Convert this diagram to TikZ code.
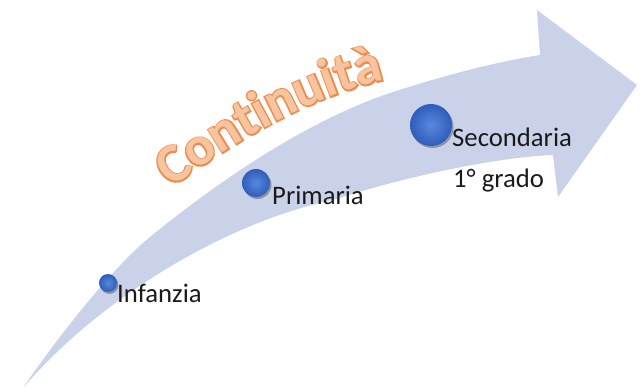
\documentclass[tikz,border=0pt]{standalone}
\usepackage{fontspec}
\setmainfont{Carlito}
\newfontface\embface{Carlito Bold}[FakeBold=5]
\newfontface\boldface{Carlito Bold}
\usetikzlibrary{shadows}
\definecolor{arrowcol}{HTML}{CAD2EA}
\definecolor{dotin}{HTML}{5888DF}
\definecolor{dotout}{HTML}{2F5EBA}
\definecolor{orfill}{HTML}{F7C4A0}
\definecolor{oredge}{HTML}{EE8C4E}
\definecolor{labcol}{HTML}{1A1A1A}
\newcommand{\olet}[1]{\makebox[0pt]{\embface\color{oredge}#1}\makebox[0pt]{\boldface\color{orfill}#1}}
\begin{document}
\begin{tikzpicture}[x=1pt,y=-1pt,
  dot/.style={circle, inner sep=0pt, shading=radial, inner color=dotin, outer color=dotout,
    drop shadow={shadow xshift=1.5pt, shadow yshift=-2pt, opacity=.3, fill=black}},
  lab/.style={anchor=base west, inner sep=0pt, text=labcol, font=\fontsize{26.7}{30}\selectfont},
  lt/.style={sloped, anchor=base, inner sep=0pt, font=\fontsize{55}{55}\selectfont}]
\useasboundingbox (0,0) rectangle (641,390);
\fill[white] (0,0) rectangle (641,390);
% curved arrow
\fill[arrowcol] (23,388) .. controls (57,338) and (112,268) .. (150,237)
  .. controls (220,180) and (308,120) .. (393,92)
  .. controls (440,77) and (490,63) .. (540,55)
  -- (537,10) -- (637,85) -- (558,197) -- (553,155)
  .. controls (500,157) and (410,175) .. (333,200)
  .. controls (235,220) and (105,292) .. (23,388) -- cycle;
% title along a curve
\path (171,188) .. controls (236,141) and (307,98) .. (385,80)
  node[lt, pos=.0607] (t1) {\olet{C}}
  node[lt, pos=.1831] (t2) {\olet{o}}
  node[lt, pos=.3064] (t3) {\olet{n}}
  node[lt, pos=.4079] (t4) {\olet{t}}
  node[lt, pos=.4759] (t5) {\olet{i}}
  node[lt, pos=.5657] (t6) {\olet{n}}
  node[lt, pos=.6890] (t7) {\olet{u}}
  node[lt, pos=.7788] (t8) {\olet{i}}
  node[lt, pos=.8468] (t9) {\olet{t}}
  node[lt, pos=.9433] (t10) {\olet{à}};
% stages
\node[dot, minimum size=18pt] (d1) at (108,283) {};
\node[dot, minimum size=28pt] (d2) at (256,183) {};
\node[dot, minimum size=42pt] (d3) at (431,125) {};
\node[lab] (l1) at (117,303) {Infanzia};
\node[lab] (l2) at (272,205) {Primaria};
\node[lab] (l3) at (452,147) {Secondaria};
\node[lab] (l4) at (453,188) {1° grado};
\end{tikzpicture}
\end{document}
